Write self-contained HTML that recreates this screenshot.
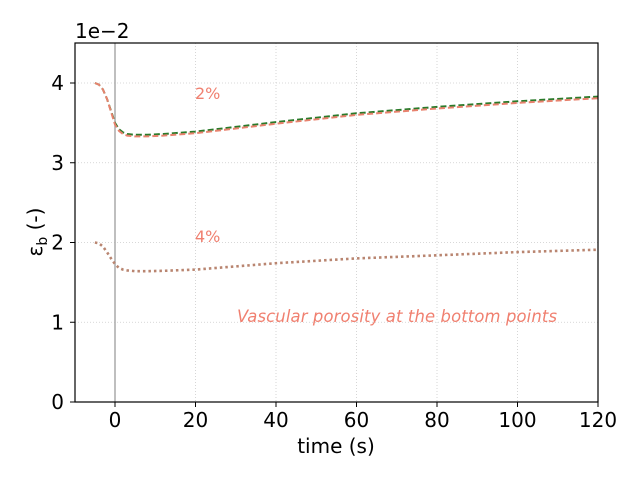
<!DOCTYPE html>
<html><head><meta charset="utf-8"><style>
body{margin:0;background:#fff;font-family:"DejaVu Sans","Liberation Sans",sans-serif}
svg text{font-family:"DejaVu Sans","Liberation Sans",sans-serif}
</style></head><body>
<svg id="chart" width="640" height="480" xmlns="http://www.w3.org/2000/svg">
<g id="grid"></g>
<g id="series"></g>
<rect x="75" y="43" width="523" height="359" fill="none" stroke="#000" stroke-width="1.2"/>
<g id="axes"></g>
<text x="75" y="38" font-size="20">1e−2</text>
<text x="336" y="453" font-size="20" text-anchor="middle">time (s)</text>
<text transform="translate(42,232) rotate(-90)" font-size="20" text-anchor="middle">ε<tspan font-size="14" dy="5">b</tspan><tspan dy="-5"> (-)</tspan></text>
<text x="195" y="99" font-size="16" fill="#f08070">2%</text>
<text x="195" y="242" font-size="16" fill="#f08070">4%</text>
<text x="237" y="322" font-size="16.4" fill="#f08070" font-style="italic" textLength="320">Vascular porosity at the bottom points</text>
</svg>
<script>
const xTicks=[0,20,40,60,80,100,120];
const yTicks=[0,1,2,3,4];
const times=[-5,-4,-3,-2,-1,0,1,2,3,5,8,12,20,30,40,60,80,100,120];
const green2=[4.0,3.98,3.92,3.8,3.65,3.5,3.42,3.38,3.36,3.35,3.35,3.36,3.39,3.45,3.51,3.62,3.7,3.77,3.83];
const salmon2=[4.0,3.98,3.92,3.8,3.64,3.48,3.4,3.36,3.34,3.33,3.33,3.34,3.37,3.43,3.49,3.6,3.68,3.75,3.81];
const dotted4=[2.0,1.99,1.95,1.88,1.8,1.73,1.68,1.66,1.65,1.64,1.64,1.645,1.66,1.7,1.74,1.8,1.84,1.88,1.91];
const X=t=>115+t*4.025, Y=v=>402-v*79.75;
const NS="http://www.w3.org/2000/svg";
const grid=document.getElementById('grid'),axes=document.getElementById('axes'),ser=document.getElementById('series');
function mk(tag,attrs,parent){const e=document.createElementNS(NS,tag);for(const k in attrs)e.setAttribute(k,attrs[k]);parent.appendChild(e);return e;}
xTicks.forEach(t=>{
 const g=mk('line',{x1:X(t),x2:X(t),y1:43,y2:402,stroke:'#ccc','stroke-width':0.8,'stroke-dasharray':'1,2'},grid);
 
 
 const tk=mk('line',{x1:X(t),x2:X(t),y1:402,y2:407,stroke:'#000'},axes);
 
 
 const tx=mk('text',{x:X(t),y:427,'font-size':20,'text-anchor':'middle'},axes);tx.textContent=t;
 
 
});
yTicks.forEach(v=>{
 const g=mk('line',{x1:75,x2:598,y1:Y(v),y2:Y(v),stroke:'#ccc','stroke-width':0.8,'stroke-dasharray':'1,2'},grid);
 
 
 const tk=mk('line',{x1:70,x2:75,y1:Y(v),y2:Y(v),stroke:'#000'},axes);
 
 
 const tx=mk('text',{x:64,y:Y(v)+7,'font-size':20,'text-anchor':'end'},axes);tx.textContent=v;
 
 
});
const vl=mk('line',{x1:X(0),x2:X(0),y1:43,y2:402,stroke:'#aaa','stroke-width':1.5},grid);


function line(vals,color,dash,name,w){
 const d=vals.map((v,i)=>(i?'L':'M')+X(times[i]).toFixed(1)+','+Y(v).toFixed(1)).join('');
 const p=mk('path',{d:d,fill:'none',stroke:color,'stroke-width':w,'stroke-dasharray':dash},ser);
 
 
}
line(green2,'#2a7a2a','6,3','series-green-2pct',2);
line(salmon2,'#e8826e','6,3','series-salmon-2pct',2);
line(dotted4,'#b98570','2.5,3','series-4pct',2.6);
</script>
</body></html>
